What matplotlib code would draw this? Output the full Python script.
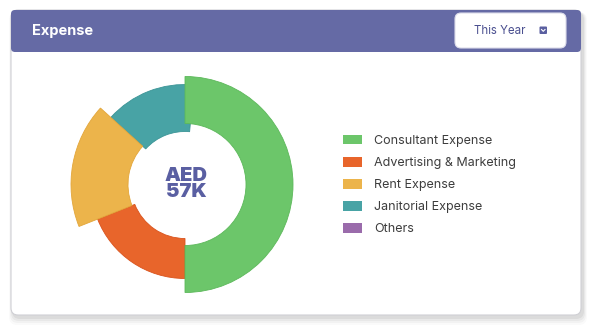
import numpy as np
import matplotlib
matplotlib.use("Agg")
import matplotlib.pyplot as plt
from matplotlib.patches import FancyBboxPatch, Patch

# ---- data ----
labels = ["Consultant Expense", "Advertising & Marketing", "Rent Expense",
          "Janitorial Expense", "Others"]
shares = [50.0, 19.0, 17.7, 13.3, 0.0]          # % of total
outer_r = [108, 94, 114, 100, 0]                  # ring outer radius per slice
inner_r = [61, 54, 57, 53, 0]
colors = ["#6cc66a", "#e8652b", "#ecb44b", "#48a3a5", "#9a6bab"]
edges = ["#5cb85a", "#d9531c", "#e3a63a", "#3b9496", "#8a5b9b"]
total_label = "AED\n57K"
title = "Expense"
period = "This Year"

W, H = 600, 325
plt.rcParams["font.family"] = ["Inter", "DejaVu Sans"]
fig = plt.figure(figsize=(W / 100, H / 100), dpi=100)
fig.patch.set_facecolor("white")

# background axis in pixel coords (y down)
bg = fig.add_axes([0, 0, 1, 1])
bg.set_xlim(0, W); bg.set_ylim(H, 0); bg.axis("off")

# card shadow
for i, a in enumerate([0.05, 0.04, 0.03, 0.02]):
    g = 2 + i * 2
    bg.add_patch(FancyBboxPatch((11 - g / 2 + 2, 10 + 2), 570 + g, 305 + g,
                                boxstyle="round,pad=0,rounding_size=8",
                                fc="black", ec="none", alpha=a))
bg.add_patch(FancyBboxPatch((11, 10), 570, 305, boxstyle="round,pad=0,rounding_size=7",
                            fc="white", ec="#cfcfd4", lw=0.8))
# header
bg.add_patch(FancyBboxPatch((11, 10), 570, 42, boxstyle="round,pad=0,rounding_size=4",
                            fc="#656aa5", ec="none"))
bg.text(32, 30.5, title, color="white", fontsize=10.5, fontweight="bold",
        ha="left", va="center")
# dropdown
bg.add_patch(FancyBboxPatch((455, 13), 111, 35, boxstyle="round,pad=0,rounding_size=6",
                            fc="white", ec="#dcdcea", lw=0.8))
bg.text(500, 30.5, period, color="#4b5090", fontsize=8.3, ha="center", va="center")
bg.add_patch(FancyBboxPatch((539.5, 26.5), 7.5, 7.5, boxstyle="round,pad=0,rounding_size=1",
                            fc="#5a5fa0", ec="none"))
bg.plot([541.5, 543.25, 545], [29.5, 31.3, 29.5], color="white", lw=0.8)

# ---- donut as polar bars ----
cx, cy, R = 185, 184.5, 120
ax = fig.add_axes([(cx - R) / W, (H - cy - R) / H, 2 * R / W, 2 * R / H],
                  projection="polar")
ax.set_theta_zero_location("N")
ax.set_theta_direction(-1)
ax.set_ylim(0, R)
ax.axis("off")

vals = np.array(shares)
starts = np.concatenate([[0], np.cumsum(vals)[:-1]]) / vals.sum() * 2 * np.pi
widths = vals / vals.sum() * 2 * np.pi
order = [3, 1, 2, 0]          # teal under yellow, green on top
extra = {3: np.deg2rad(5)}    # teal tucks under green
for i in order:
    if vals[i] == 0:
        continue
    ax.bar(starts[i], outer_r[i] - inner_r[i], width=widths[i] + extra.get(i, 0),
           bottom=inner_r[i], align="edge", color=colors[i], edgecolor=edges[i],
           linewidth=0.6)

bg.text(cx + 1, 184, total_label, color="#5a5fa2", fontsize=14.5, fontweight="black",
        ha="center", va="center", linespacing=0.92)

# legend
handles = [Patch(fc=c, ec="none") for c in colors]
fig.legend(handles, labels, loc="upper left", bbox_to_anchor=(343 / W, 1 - 134.5 / H),
           frameon=False, fontsize=9, labelcolor="#3d3d3d", handlelength=1.5,
           handleheight=0.85, handletextpad=1.0, labelspacing=0.78,
           borderpad=0, borderaxespad=0)

fig.savefig("out.png", dpi=100)
